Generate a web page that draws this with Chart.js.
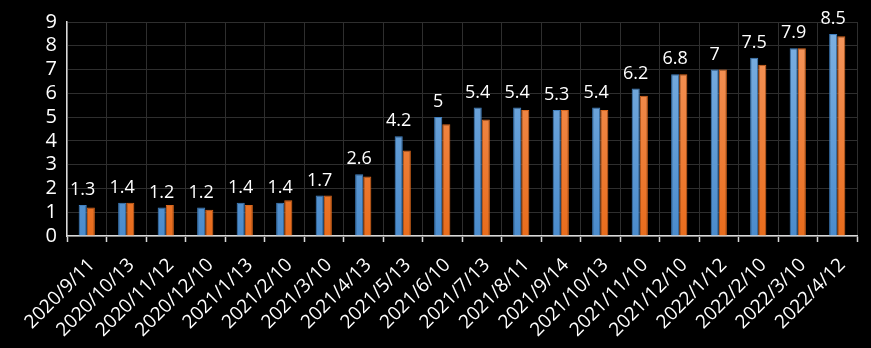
<!DOCTYPE html>
<html>
<head>
<meta charset="utf-8">
<script src="https://cdn.jsdelivr.net/npm/chart.js@4.4.1/dist/chart.umd.min.js"></script>
<style>
  html, body { margin: 0; padding: 0; background: #000; }
  .box { width: 871px; height: 348px; position: relative; }
</style>
</head>
<body>
<div class="box"><canvas id="chart"></canvas></div>
<script>
const dates = [
  "2020/9/11", "2020/10/13", "2020/11/12", "2020/12/10", "2021/1/13",
  "2021/2/10", "2021/3/10", "2021/4/13", "2021/5/13", "2021/6/10",
  "2021/7/13", "2021/8/11", "2021/9/14", "2021/10/13", "2021/11/10",
  "2021/12/10", "2022/1/12", "2022/2/10", "2022/3/10", "2022/4/12"
];
const blueValues = [1.3, 1.4, 1.2, 1.2, 1.4, 1.4, 1.7, 2.6, 4.2, 5, 5.4, 5.4, 5.3, 5.4, 6.2, 6.8, 7, 7.5, 7.9, 8.5];
const orangeValues = [1.2, 1.4, 1.3, 1.1, 1.3, 1.5, 1.7, 2.5, 3.6, 4.7, 4.9, 5.3, 5.3, 5.3, 5.9, 6.8, 7, 7.2, 7.9, 8.4];
const yTicks = [0, 1, 2, 3, 4, 5, 6, 7, 8, 9];

const FONT = "'Open Sans', 'Noto Sans', sans-serif";

function barGradient(top, bottom) {
  return (ctx) => {
    const area = ctx.chart.chartArea;
    if (!area) return bottom;
    const g = ctx.chart.ctx.createLinearGradient(0, area.top, 0, area.bottom);
    g.addColorStop(0, top);
    g.addColorStop(1, bottom);
    return g;
  };
}

// labels above the blue bars
const valueLabels = {
  id: "valueLabels",
  afterDatasetsDraw(chart) {
    const ctx = chart.ctx;
    const meta = chart.getDatasetMeta(0);
    ctx.save();
    ctx.fillStyle = "#ffffff";
    ctx.font = "18px " + FONT;
    ctx.textAlign = "center";
    ctx.textBaseline = "bottom";
    meta.data.forEach((bar, i) => {
      ctx.fillText(String(blueValues[i]), bar.x, bar.y - 6);
    });
    ctx.restore();
  },
};

new Chart(document.getElementById("chart"), {
  type: "bar",
  data: {
    labels: dates,
    datasets: [
      {
        data: blueValues,
        backgroundColor: barGradient("#7fb2e3", "#4a8bcc"),
        borderColor: "#3f7fbf",
        borderWidth: 1,
        categoryPercentage: 0.41,
        barPercentage: 1,
      },
      {
        data: orangeValues,
        backgroundColor: barGradient("#f59860", "#e86c1c"),
        borderColor: "#d8661c",
        borderWidth: 1,
        categoryPercentage: 0.41,
        barPercentage: 1,
      },
    ],
  },
  options: {
    responsive: true,
    maintainAspectRatio: false,
    animation: false,
    layout: { padding: { top: -4, right: 14, left: 0, bottom: 0 } },
    plugins: {
      legend: false,
      tooltip: { enabled: false },
    },
    scales: {
      x: {
        afterFit(axis) {
          axis.height = 112;
        },
        grid: {
          color: "#2e2e2e",
          offset: true,
          tickColor: "#d9d9d9",
          tickLength: 6,
          tickWidth: 1.5,
        },
        border: { color: "#d9d9d9", width: 1.5 },
        ticks: {
          color: "#ffffff",
          font: { family: FONT, size: 19 },
          minRotation: 45,
          maxRotation: 45,
          autoSkip: false,
          padding: 12,
          labelOffset: 5,
        },
      },
      y: {
        min: 0,
        max: 9,
        afterBuildTicks(axis) {
          axis.ticks = yTicks.map((v) => ({ value: v }));
        },
        afterFit(axis) {
          axis.width = 67;
        },
        grid: { color: "#2e2e2e", drawTicks: false },
        border: { color: "#d9d9d9", width: 1.5 },
        ticks: {
          color: "#ffffff",
          font: { family: FONT, size: 20 },
          padding: 10,
          autoSkip: false,
        },
      },
    },
  },
  plugins: [valueLabels],
});
</script>
</body>
</html>
